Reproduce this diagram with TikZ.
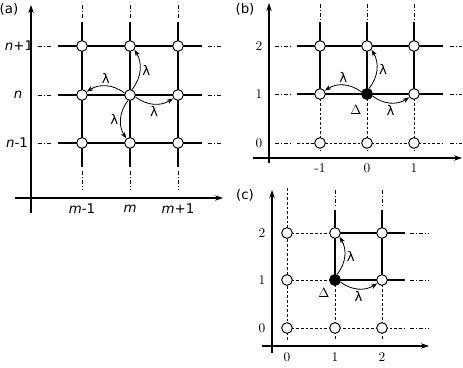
\documentclass[tikz,border=0pt]{standalone}
\usepackage{fontspec}
\setsansfont{DejaVu Sans}
\usetikzlibrary{arrows.meta, backgrounds, calc}
\tikzset{
    site/.style={circle, draw, fill=white, line width=0.7pt, inner sep=0pt, minimum size=8pt},
    sitefull/.style={site, fill=black},
    bond/.style={line width=0.8pt},
    weak/.style={line width=0.6pt, dash pattern=on 2pt off 1.5pt},
    ext/.style={line width=0.6pt, dash pattern=on 3pt off 1.5pt on 0.6pt off 1.5pt},
    axisarrow/.style={-{Stealth[length=6pt, width=4pt]}, line width=0.8pt},
    hop/.style={-{Stealth[length=5pt, width=3.5pt]}, line width=0.6pt},
    rate/.style={font=\sffamily, inner sep=1.5pt},
    numlbl/.style={inner sep=1pt},
    sflbl/.style={font=\sffamily, inner sep=1pt},
    panel/.style={font=\sffamily, inner sep=1pt}
}

\begin{document}
\begin{tikzpicture}[x=0.75pt, y=-0.75pt]
            \useasboundingbox (0,0) rectangle (463,367);
            % panel (a)
            \foreach \i/\x in {0/82, 1/130, 2/178}
                \foreach \j/\y in {0/143, 1/95, 2/46}
                    \node[site] (a\i\j) at (\x,\y) {};
            \begin{scope}[on background layer]
                \foreach \j in {0,1,2} {
                    \draw[bond] ($(a0\j)+(-24,0)$) -- ($(a2\j)+(24,0)$);
                    \draw[ext] ($(a0\j)+(-44,0)$) -- ++(14,0);
                    \draw[ext] ($(a2\j)+(30,0)$) -- ++(14,0);
                }
                \foreach \i in {0,1,2} {
                    \draw[bond] ($(a\i2)+(0,-24)$) -- ($(a\i0)+(0,24)$);
                    \draw[ext] ($(a\i2)+(0,-41)$) -- ++(0,13);
                    \draw[ext] ($(a\i0)+(0,28)$) -- ++(0,18);
                }
            \end{scope}
            \draw[axisarrow] (31,213) -- (31,5);
            \draw[axisarrow] (15,198) -- (223,198);
            \node[panel] (tagA) at (9,9) {(a)};
            \node[sflbl] (na2) at (19,46) {\textit{n}+1};
            \node[sflbl] (na1) at (18,95) {\textit{n}};
            \node[sflbl] (na0) at (17,143) {\textit{n}-1};
            \node[sflbl] (ma0) at (82,209) {\textit{m}-1};
            \node[sflbl] (ma1) at (130,209) {\textit{m}};
            \node[sflbl] (ma2) at (178,209) {\textit{m}+1};
            \draw[hop] (a11.160) to[bend right=35] node[rate, above] {λ} (a01.35);
            \draw[hop] (a11.70) to[bend right=35] node[rate, right] {λ} (a12.-40);
            \draw[hop] (a11.-20) to[bend right=35] node[rate, below] {λ} (a21.-145);
            \draw[hop] (a11.250) to[bend right=35] node[rate, left] {λ} (a10.130);

            % panel (b)
            \foreach \i/\x in {0/320, 1/367, 2/414}
                \foreach \j/\y in {0/143, 1/94, 2/46}
                    \node[site] (b\i\j) at (\x,\y) {};
            \node[sitefull] (bD) at (b11) {};
            \begin{scope}[on background layer]
                \foreach \j in {1,2} {
                    \draw[bond] ($(b0\j)+(-23,0)$) -- ($(b2\j)+(29,0)$);
                    \draw[ext] ($(b0\j)+(-45,0)$) -- ++(15,0);
                    \draw[ext] ($(b2\j)+(36,0)$) -- ++(12,0);
                }
                \draw[ext] ($(b00)+(-45,0)$) -- ++(15,0);
                \draw[weak] ($(b00)+(-23,0)$) -- ($(b20)+(29,0)$);
                \draw[ext] ($(b20)+(36,0)$) -- ++(12,0);
                \foreach \i in {0,1,2} {
                    \draw[ext] ($(b\i2)+(0,-42)$) -- ++(0,15);
                    \draw[bond] ($(b\i2)+(0,-24)$) -- (b\i1.center);
                    \draw[weak] (b\i1.center) -- ($(b\i0)+(0,8)$);
                }
            \end{scope}
            \draw[axisarrow] (269,163) -- (269,3);
            \draw[axisarrow] (253,158) -- (462,158);
            \node[panel] (tagB) at (245,9) {(b)};
            \node[numlbl] (yb2) at (259,46) {2};
            \node[numlbl] (yb1) at (259,94) {1};
            \node[numlbl] (yb0) at (259,143) {0};
            \node[numlbl] (xb0) at (320,168) {-1};
            \node[numlbl] (xb1) at (367,168) {0};
            \node[numlbl] (xb2) at (414,168) {1};
            \node[numlbl] (dB) at (356,110) {$\Delta$};
            \draw[hop] (bD.160) to[bend right=35] node[rate, above] {λ} (b01.35);
            \draw[hop] (bD.70) to[bend right=35] node[rate, right] {λ} (b12.-40);
            \draw[hop] (bD.-20) to[bend right=35] node[rate, below] {λ} (b21.-145);

            % panel (c)
            \foreach \i/\x in {0/287, 1/335, 2/382}
                \foreach \j/\y in {0/328, 1/280, 2/233}
                    \node[site] (c\i\j) at (\x,\y) {};
            \node[sitefull] (cD) at (c11) {};
            \begin{scope}[on background layer]
                \draw[weak] ($(c02)+(0,-45)$) -- ($(c00)+(0,12)$);
                \foreach \i in {1,2} {
                    \draw[ext] ($(c\i2)+(0,-43)$) -- ++(0,15);
                    \draw[bond] ($(c\i2)+(0,-23)$) -- (c\i1.center);
                    \draw[weak] (c\i1.center) -- ($(c\i0)+(0,12)$);
                }
                \foreach \j in {1,2} {
                    \draw[weak] (c0\j.center) -- (c1\j.center);
                    \draw[bond] (c1\j.center) -- ($(c2\j)+(23,0)$);
                    \draw[ext] ($(c2\j)+(28,0)$) -- ++(18,0);
                }
                \draw[weak] (c00.center) -- ($(c20)+(23,0)$);
                \draw[ext] ($(c20)+(28,0)$) -- ++(18,0);
            \end{scope}
            \draw[axisarrow] (272,353) -- (272,190);
            \draw[axisarrow] (262,346) -- (429,346);
            \node[panel] (tagC) at (245,195) {(c)};
            \node[numlbl] (yc2) at (262,233) {2};
            \node[numlbl] (yc1) at (262,280) {1};
            \node[numlbl] (yc0) at (262,328) {0};
            \node[numlbl] (xc0) at (287,357) {0};
            \node[numlbl] (xc1) at (335,357) {1};
            \node[numlbl] (xc2) at (382,357) {2};
            \node[numlbl] (dC) at (324,293) {$\Delta$};
            \draw[hop] (cD.70) to[bend right=35] node[rate, right] {λ} (c12.-40);
            \draw[hop] (cD.-20) to[bend right=35] node[rate, below] {λ} (c21.-145);
\end{tikzpicture}
\end{document}
